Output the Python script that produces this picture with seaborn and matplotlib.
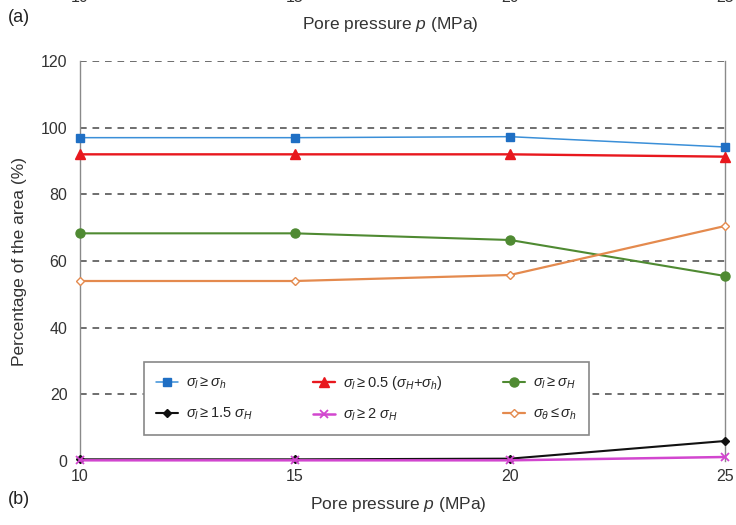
import matplotlib
matplotlib.use("Agg")
import matplotlib.pyplot as plt
import seaborn as sns
import pandas as pd

# Pore pressure (MPa) and percentage of the area meeting each stress criterion
pressure = [10, 15, 20, 25]
s_l_ge_sh = [97.0, 97.0, 97.3, 94.2]
s_l_ge_half_sum = [92.0, 92.0, 92.0, 91.3]
s_l_ge_sH = [68.3, 68.3, 66.3, 55.5]
s_l_ge_15sH = [0.5, 0.5, 0.7, 6.0]
s_l_ge_2sH = [0.2, 0.2, 0.2, 1.2]
s_t_le_sh = [54.0, 54.0, 55.8, 70.5]

labels = [
    r"$\sigma_l \geq \sigma_h$",
    r"$\sigma_l \geq 0.5\ (\sigma_H$+$\sigma_h)$",
    r"$\sigma_l \geq \sigma_H$",
    r"$\sigma_l \geq 1.5\ \sigma_H$",
    r"$\sigma_l \geq 2\ \sigma_H$",
    r"$\sigma_\theta \leq \sigma_h$",
]
y_ticks = [0, 20, 40, 60, 80, 100, 120]
x_ticks = [10, 15, 20, 25]

sns.set_theme(style="white")
plt.rcParams["font.family"] = ["Liberation Sans", "DejaVu Sans"]
plt.rcParams["mathtext.fontset"] = "custom"
plt.rcParams["mathtext.rm"] = "Liberation Sans"
plt.rcParams["mathtext.it"] = "Liberation Sans:italic"

fig = plt.figure(figsize=(7.36, 5.25), dpi=100)
ax = fig.add_axes([80 / 736, 1 - 461 / 525, 645 / 736, 400 / 525])

series = [s_l_ge_sh, s_l_ge_half_sum, s_l_ge_sH, s_l_ge_15sH, s_l_ge_2sH, s_t_le_sh]
styles = [
    dict(color="#3a8fd8", lw=1.1, marker="s", ms=6, mfc="#1f6fc4", mec="#1f6fc4", mew=1.0),
    dict(color="#e8181e", lw=1.7, marker="^", ms=6.5, mfc="#e8181e", mec="#e8181e", mew=1.0),
    dict(color="#4f8a32", lw=1.5, marker="o", ms=6.5, mfc="#4f8a32", mec="#4f8a32", mew=1.0),
    dict(color="#111111", lw=1.5, marker="D", ms=4.5, mfc="#111111", mec="#111111", mew=1.0),
    dict(color="#d246cf", lw=1.8, marker="x", ms=6, mfc="#d246cf", mec="#d246cf", mew=1.3),
    dict(color="#e48a4e", lw=1.6, marker="D", ms=4.5, mfc="white", mec="#e48a4e", mew=1.0),
]

for vals, lab, st in zip(series, labels, styles):
    df = pd.DataFrame({"p": pressure, "v": vals})
    sns.lineplot(data=df, x="p", y="v", ax=ax, color=st["color"], linewidth=st["lw"],
                 marker=st["marker"], markersize=st["ms"],
                 markerfacecolor=st["mfc"], markeredgecolor=st["mec"],
                 markeredgewidth=st["mew"], label=lab, clip_on=False, zorder=3)

ax.set_xlim(10, 25)
ax.set_ylim(0, 120)
ax.set_xticks(x_ticks)
ax.set_yticks(y_ticks)
ax.tick_params(axis="both", labelsize=11.5, colors="#333333", length=0)
ax.tick_params(axis="y", pad=9)
ax.tick_params(axis="x", pad=6)
ax.set_xlabel("")
ax.set_ylabel("Percentage of the area (%)", fontsize=12.5, color="#333333", labelpad=10)

for y in y_ticks[1:]:
    ax.axhline(y, color="#555555", linewidth=1.2, linestyle=(0, (4, 3.5)), zorder=1)

for side in ["top", "bottom"]:
    ax.spines[side].set_visible(False)
for side in ["left", "right"]:
    ax.spines[side].set_visible(True)
    ax.spines[side].set_color("#8a8a8a")
    ax.spines[side].set_linewidth(1.0)

h, l = ax.get_legend_handles_labels()
order = [0, 3, 1, 4, 2, 5]
leg = ax.legend([h[i] for i in order], [l[i] for i in order], ncol=3,
                loc="lower left", bbox_to_anchor=(0.088, 0.0475, 0.712, 0.185),
                mode="expand", fontsize=10.5, frameon=True, fancybox=False,
                edgecolor="#888888", framealpha=1, borderpad=0.8,
                handlelength=1.5, handletextpad=0.6, labelspacing=1.0)
leg.get_frame().set_linewidth(1.2)
leg.set_zorder(5)

# Panel labels and axis title of the stacked figure
fig.text(398 / 736, 1 - 505 / 525, "Pore pressure $p$ (MPa)", ha="center", va="center",
         fontsize=12.5, color="#333333")
fig.text(8 / 736, 1 - 500 / 525, "(b)", ha="left", va="center", fontsize=13, color="#222222")
fig.text(390 / 736, 1 - 25 / 525, "Pore pressure $p$ (MPa)", ha="center", va="center",
         fontsize=12.5, color="#333333")
fig.text(8 / 736, 1 - 18 / 525, "(a)", ha="left", va="center", fontsize=13, color="#222222")
for xv in x_ticks:
    xf = (80 + (xv - 10) / 15 * 645) / 736
    fig.text(xf, 1 + 2 / 525, str(xv), ha="center", va="center", fontsize=11.5, color="#333333")

fig.savefig("out.png", dpi=100)
